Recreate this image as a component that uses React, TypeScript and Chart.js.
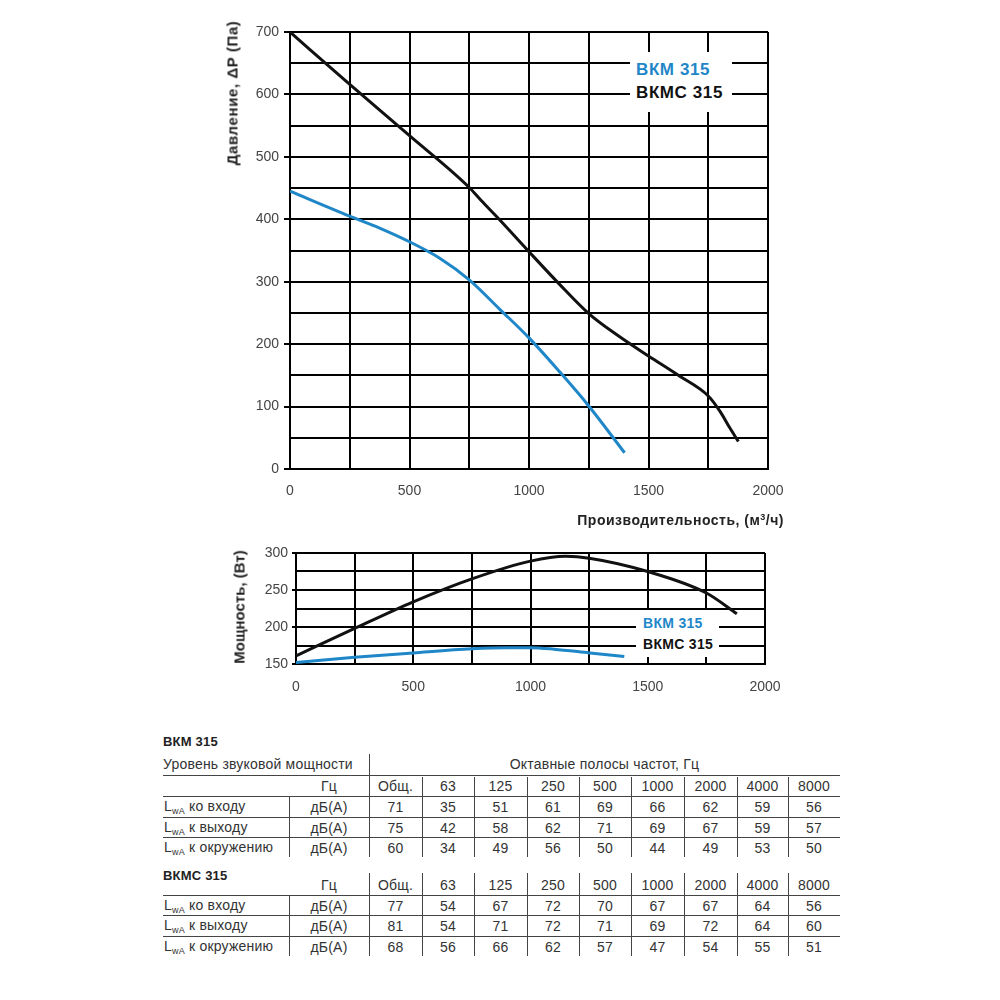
import React, { useEffect, useRef } from 'react';
import { Chart, registerables } from 'chart.js';

Chart.register(...registerables);

// ---------- Data ----------
const flowBKM = [0, 250, 375, 500, 625, 750, 880, 1000, 1125, 1250, 1400];
const pressureBKM = [445, 405, 386, 364, 338, 303, 255, 210, 157, 101, 26];

const flowBKMC = [0, 250, 500, 750, 800, 875, 1000, 1125, 1250, 1375, 1500, 1625, 1750, 1800, 1840, 1876];
const pressureBKMC = [700, 616, 534, 451, 430, 400, 348, 297, 249, 213, 181, 150, 117, 92, 66, 44];

const powerFlowBKM = [0, 250, 500, 750, 900, 1000, 1100, 1250, 1400];
const powerBKM = [152, 159, 165, 170.5, 172, 172, 170, 165, 160];

const powerFlowBKMC = [0, 250, 500, 750, 1000, 1150, 1250, 1500, 1750, 1880];
const powerBKMC = [161, 198, 234, 265, 289, 295.5, 293, 275, 246, 218];

const seriesNames = ['ВКМ 315', 'ВКМС 315'];

const bands = ['Общ.', '63', '125', '250', '500', '1000', '2000', '4000', '8000'];
const rowLabels = ['ко входу', 'к выходу', 'к окружению'];
const bkmInlet = [71, 35, 51, 61, 69, 66, 62, 59, 56];
const bkmOutlet = [75, 42, 58, 62, 71, 69, 67, 59, 57];
const bkmAmbient = [60, 34, 49, 56, 50, 44, 49, 53, 50];
const bkmcInlet = [77, 54, 67, 72, 70, 67, 67, 64, 56];
const bkmcOutlet = [81, 54, 71, 72, 71, 69, 72, 64, 60];
const bkmcAmbient = [68, 56, 66, 62, 57, 47, 54, 55, 51];

// ---------- Styles ----------
const BLUE = '#1f87c8';
const BLACK = '#111111';
const FONT = '"Liberation Sans", Arial, sans-serif';
const TICK_COLOR = '#444';

const toPoints = (xs: number[], ys: number[]) => xs.map((x, i) => ({ x, y: ys[i] }));

function lineDataset(label: string, xs: number[], ys: number[], color: string) {
  return {
    label,
    data: toPoints(xs, ys),
    borderColor: color,
    backgroundColor: color,
    borderWidth: 3,
    showLine: true,
    pointRadius: 0,
    fill: false,
    cubicInterpolationMode: 'monotone' as const,
  };
}

function PressureChart() {
  const ref = useRef<HTMLCanvasElement>(null);
  useEffect(() => {
    const chart = new Chart(ref.current!, {
      type: 'scatter',
      data: {
        datasets: [
          lineDataset(seriesNames[1], flowBKMC, pressureBKMC, BLACK),
          lineDataset(seriesNames[0], flowBKM, pressureBKM, BLUE),
        ],
      },
      options: {
        responsive: false,
        animation: false,
        devicePixelRatio: 1,
        layout: { padding: { left: 0, right: 32, top: 32, bottom: 0 } },
        plugins: { legend: { display: false }, tooltip: { enabled: false } },
        scales: {
          x: {
            type: 'linear',
            min: 0,
            max: 2000,
            afterFit: (s: any) => { s.height = 71; },
            ticks: {
              stepSize: 250,
              autoSkip: false,
              maxRotation: 0,
              padding: 6,
              color: TICK_COLOR,
              font: { family: FONT, size: 14 },
              callback: (v: any) => (Number(v) % 500 === 0 ? String(v) : ''),
            },
            grid: { color: '#000', lineWidth: 2, tickLength: 8, tickColor: 'rgba(0,0,0,0)' },
            border: { color: '#000', width: 2 },
          },
          y: {
            type: 'linear',
            min: 0,
            max: 700,
            afterFit: (s: any) => { s.width = 90; },
            ticks: {
              stepSize: 50,
              autoSkip: false,
              padding: 5,
              color: TICK_COLOR,
              font: { family: FONT, size: 14 },
              callback: (v: any) => (Number(v) % 100 === 0 ? String(v) : ''),
            },
            grid: {
              color: '#000',
              lineWidth: 2,
              tickLength: 6,
              tickColor: (ctx: any) => (ctx.tick && ctx.tick.value % 100 === 0 ? '#000' : 'rgba(0,0,0,0)'),
            },
            border: { color: '#000', width: 2 },
          },
        },
      },
    } as any);
    return () => chart.destroy();
  }, []);
  return (
    <canvas
      ref={ref}
      width={600}
      height={540}
      style={{ position: 'absolute', left: 200, top: 0, width: 600, height: 540 }}
    />
  );
}

function PowerChart() {
  const ref = useRef<HTMLCanvasElement>(null);
  useEffect(() => {
    const chart = new Chart(ref.current!, {
      type: 'scatter',
      data: {
        datasets: [
          lineDataset(seriesNames[1], powerFlowBKMC, powerBKMC, BLACK),
          lineDataset(seriesNames[0], powerFlowBKM, powerBKM, BLUE),
        ],
      },
      options: {
        responsive: false,
        animation: false,
        devicePixelRatio: 1,
        layout: { padding: { left: 0, right: 35, top: 13, bottom: 0 } },
        plugins: { legend: { display: false }, tooltip: { enabled: false } },
        scales: {
          x: {
            type: 'linear',
            min: 0,
            max: 2000,
            afterFit: (s: any) => { s.height = 36; },
            ticks: {
              stepSize: 250,
              autoSkip: false,
              maxRotation: 0,
              padding: 7,
              color: TICK_COLOR,
              font: { family: FONT, size: 14 },
              callback: (v: any) => (Number(v) % 500 === 0 ? String(v) : ''),
            },
            grid: { color: '#000', lineWidth: 2, tickLength: 8, tickColor: 'rgba(0,0,0,0)' },
            border: { color: '#000', width: 2 },
          },
          y: {
            type: 'linear',
            min: 150,
            max: 300,
            afterFit: (s: any) => { s.width = 96; },
            ticks: {
              stepSize: 25,
              autoSkip: false,
              padding: 4,
              color: TICK_COLOR,
              font: { family: FONT, size: 14 },
              callback: (v: any) => (Number(v) % 50 === 0 ? String(v) : ''),
            },
            grid: {
              color: '#000',
              lineWidth: 2,
              tickLength: 4,
              tickColor: (ctx: any) => (ctx.tick && ctx.tick.value % 50 === 0 ? '#000' : 'rgba(0,0,0,0)'),
            },
            border: { color: '#000', width: 2 },
          },
        },
      },
    } as any);
    return () => chart.destroy();
  }, []);
  return (
    <canvas
      ref={ref}
      width={600}
      height={160}
      style={{ position: 'absolute', left: 200, top: 540, width: 600, height: 160 }}
    />
  );
}

// ---------- Helpers ----------
const abs = (style: React.CSSProperties): React.CSSProperties => ({ position: 'absolute', ...style });

function HLine({ x1, x2, y }: { x1: number; x2: number; y: number }) {
  return <div style={abs({ left: x1, top: y, width: x2 - x1, height: 1, background: '#444' })} />;
}
function VLine({ x, y1, y2 }: { x: number; y1: number; y2: number }) {
  return <div style={abs({ left: x, top: y1, width: 1, height: y2 - y1, background: '#444' })} />;
}

const TXT: React.CSSProperties = {
  fontFamily: FONT,
  fontSize: 14,
  color: '#333',
  whiteSpace: 'nowrap',
  lineHeight: '16px',
  letterSpacing: 0.2,
};

function CenterText({ cx, cy, children, style }: any) {
  return (
    <div style={abs({ ...TXT, left: cx, top: cy, transform: 'translate(-50%, -50%)', ...style })}>{children}</div>
  );
}
function LeftText({ x, cy, children, style }: any) {
  return <div style={abs({ ...TXT, left: x, top: cy, transform: 'translate(0, -50%)', ...style })}>{children}</div>;
}

const colEdges = [369, 422, 474, 527, 579, 631, 684, 737, 788, 840];
const unitSep = 289;
const tableLeft = 163;
const tableRight = 840;

function SoundRows({ hzY, rowH, rows, bottom }: { hzY: number; rowH: number; rows: number[][]; bottom: number }) {
  const els: React.ReactNode[] = [];
  els.push(
    <CenterText key="hz" cx={(unitSep + colEdges[0]) / 2} cy={hzY}>
      Гц
    </CenterText>
  );
  bands.forEach((b, i) => {
    els.push(
      <CenterText key={'b' + i} cx={(colEdges[i] + colEdges[i + 1]) / 2} cy={hzY}>
        {b}
      </CenterText>
    );
  });
  const lineUnderHz = hzY + 10;
  els.push(<HLine key="lhz" x1={tableLeft} x2={tableRight} y={lineUnderHz} />);
  rows.forEach((vals, r) => {
    const cy = lineUnderHz + rowH / 2 + r * rowH + 1;
    els.push(
      <LeftText key={'l' + r} x={tableLeft + 1} cy={cy}>
        L<sub style={{ fontSize: 9, verticalAlign: 'baseline', position: 'relative', top: 3 }}>wA</sub> {rowLabels[r]}
      </LeftText>
    );
    els.push(
      <CenterText key={'u' + r} cx={(unitSep + colEdges[0]) / 2} cy={cy}>
        дБ(А)
      </CenterText>
    );
    vals.forEach((v, i) => {
      els.push(
        <CenterText key={'v' + r + '_' + i} cx={(colEdges[i] + colEdges[i + 1]) / 2} cy={cy}>
          {v}
        </CenterText>
      );
    });
    if (r < rows.length - 1) {
      els.push(<HLine key={'rl' + r} x1={tableLeft} x2={tableRight} y={lineUnderHz + (r + 1) * rowH} />);
    }
  });
  els.push(<VLine key="us" x={unitSep} y1={lineUnderHz} y2={bottom} />);
  return <>{els}</>;
}

const titleStyle: React.CSSProperties = {
  fontFamily: FONT,
  fontWeight: 'bold',
  color: '#222',
  whiteSpace: 'nowrap',
};

export default function App() {
  const t1Rows = [bkmInlet, bkmOutlet, bkmAmbient];
  const t2Rows = [bkmcInlet, bkmcOutlet, bkmcAmbient];
  return (
    <div style={abs({ left: 0, top: 0, width: 1000, height: 1000, background: '#fff', overflow: 'hidden' })}>
      <PressureChart />
      <PowerChart />

      {/* Axis titles */}
      <div
        style={abs({
          ...titleStyle,
          left: 232,
          top: 93,
          transform: 'translate(-50%, -50%) rotate(-90deg)',
          fontSize: 15,
          letterSpacing: 0.6,
        })}
      >
        Давление, ΔP (Па)
      </div>
      <div
        style={abs({
          ...titleStyle,
          right: 1000 - 784,
          top: 520,
          transform: 'translate(0, -50%)',
          fontSize: 14,
          letterSpacing: 0.5,
        })}
      >
        Производительность, (м<sup style={{ fontSize: 9 }}>3</sup>/ч)
      </div>
      <div
        style={abs({
          ...titleStyle,
          left: 239,
          top: 607,
          transform: 'translate(-50%, -50%) rotate(-90deg)',
          fontSize: 15,
        })}
      >
        Мощность, (Вт)
      </div>

      {/* Legend, top chart */}
      <div style={abs({ left: 630, top: 52, width: 102, height: 60, background: '#fff' })} />
      <LeftText x={636} cy={70} style={{ fontSize: 17, fontWeight: 'bold', color: BLUE, letterSpacing: 0.6 }}>
        {seriesNames[0]}
      </LeftText>
      <LeftText x={636} cy={93} style={{ fontSize: 17, fontWeight: 'bold', color: BLACK, letterSpacing: 0.6 }}>
        {seriesNames[1]}
      </LeftText>

      {/* Legend, power chart */}
      <div style={abs({ left: 636, top: 610, width: 83, height: 47, background: '#fff' })} />
      <LeftText x={643} cy={623} style={{ fontSize: 14, fontWeight: 'bold', color: BLUE, letterSpacing: 0.3 }}>
        {seriesNames[0]}
      </LeftText>
      <LeftText x={643} cy={644} style={{ fontSize: 14, fontWeight: 'bold', color: BLACK, letterSpacing: 0.3 }}>
        {seriesNames[1]}
      </LeftText>

      {/* Table 1 */}
      <LeftText x={163} cy={742} style={{ fontSize: 13, fontWeight: 'bold', color: '#222' }}>
        ВКМ 315
      </LeftText>
      <LeftText x={163} cy={764}>Уровень звуковой мощности</LeftText>
      <CenterText cx={(colEdges[0] + tableRight) / 2} cy={764}>
        Октавные полосы частот, Гц
      </CenterText>
      <VLine x={colEdges[0]} y1={754} y2={857} />
      <HLine x1={tableLeft} x2={tableRight} y={775} />
      {colEdges.slice(1, -1).map((x, i) => (
        <VLine key={'t1c' + i} x={x} y1={777} y2={857} />
      ))}
      <SoundRows hzY={786} rowH={20.5} rows={t1Rows} bottom={857} />

      {/* Table 2 */}
      <LeftText x={163} cy={876} style={{ fontSize: 13, fontWeight: 'bold', color: '#222' }}>
        ВКМС 315
      </LeftText>
      {colEdges.slice(0, -1).map((x, i) => (
        <VLine key={'t2c' + i} x={x} y1={873} y2={956} />
      ))}
      <SoundRows hzY={885} rowH={20.3} rows={t2Rows} bottom={956} />
    </div>
  );
}
